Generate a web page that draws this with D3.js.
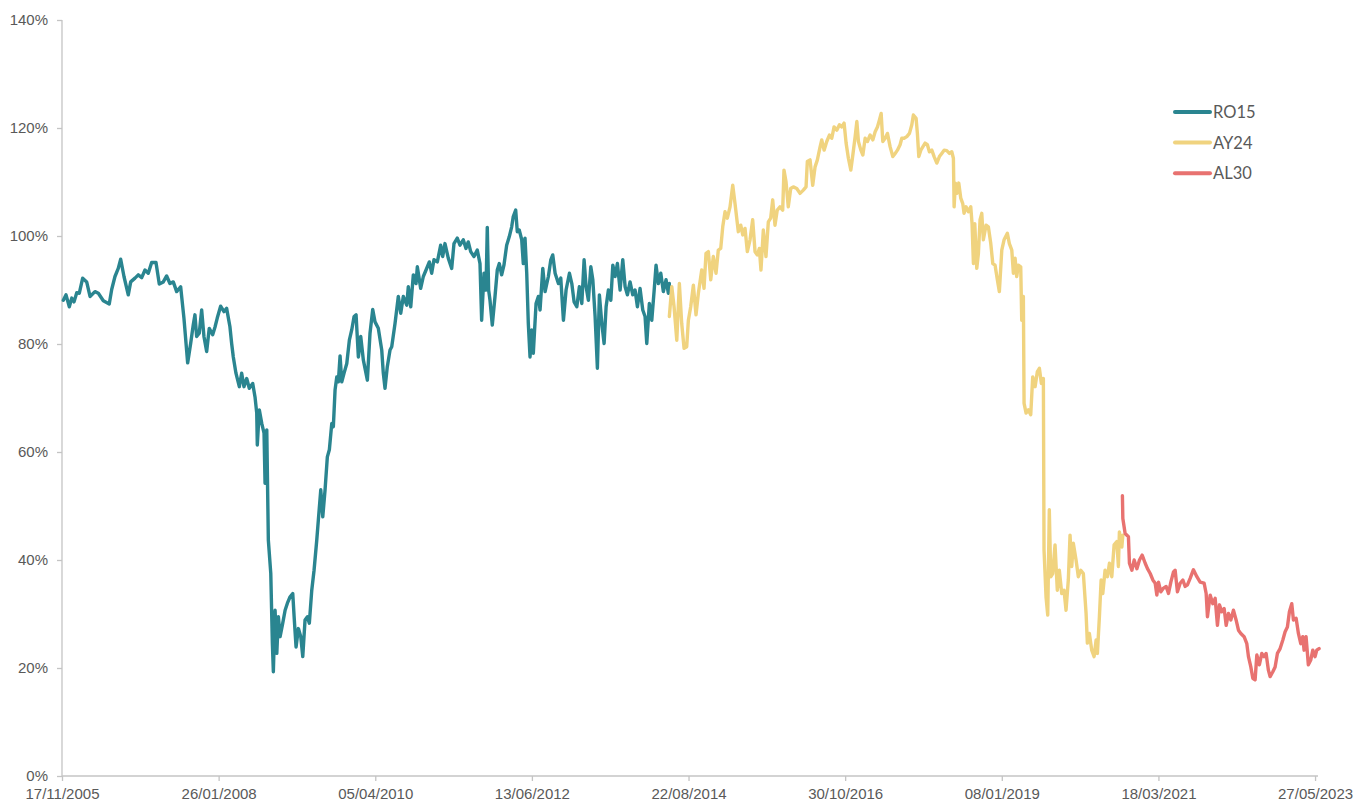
<!DOCTYPE html>
<html>
<head>
<meta charset="utf-8">
<script src="https://cdn.jsdelivr.net/npm/d3@7"></script>
<style>
  html, body { margin: 0; padding: 0; background: #fff; }
  svg { display: block; font-family: Lato, "Open Sans", sans-serif; }
  .axis path, .axis line { stroke: #c4c4c4; stroke-width: 1.3; }
  .axis text { fill: #595959; font-size: 15px; }
  .legend text { fill: #595959; font-size: 16.5px; }
</style>
</head>
<body>
<svg id="chart" width="1363" height="802"></svg>
<script>
// ---------- data (fecha en año decimal, valor en %) ----------
const ro15 = [
  [2005.895, 88.1], [2005.933, 89.1], [2005.979, 86.9], [2006.013, 88.5], [2006.045, 87.8],
  [2006.083, 89.5], [2006.119, 89.4], [2006.166, 92.2], [2006.222, 91.5], [2006.269, 88.8],
  [2006.338, 89.7], [2006.385, 89.4], [2006.455, 88.0], [2006.538, 87.4], [2006.572, 90.1],
  [2006.618, 92.5], [2006.664, 94.0], [2006.698, 95.7], [2006.744, 92.5], [2006.804, 89.1],
  [2006.838, 91.5], [2006.898, 92.2], [2006.944, 92.8], [2006.992, 92.3], [2007.038, 93.7],
  [2007.084, 93.1], [2007.131, 95.1], [2007.192, 95.1], [2007.238, 91.1], [2007.294, 91.5],
  [2007.341, 92.6], [2007.387, 91.2], [2007.434, 91.5], [2007.481, 89.7], [2007.537, 90.6],
  [2007.583, 84.8], [2007.635, 76.5], [2007.677, 80.1], [2007.713, 83.5], [2007.737, 85.4],
  [2007.761, 81.4], [2007.797, 82.0], [2007.831, 86.3], [2007.863, 81.4], [2007.901, 78.6],
  [2007.937, 82.9], [2007.985, 81.7], [2008.017, 83.1], [2008.049, 84.8], [2008.096, 87.0],
  [2008.143, 86.0], [2008.180, 86.6], [2008.226, 83.2], [2008.250, 80.1], [2008.273, 77.6],
  [2008.310, 74.6], [2008.357, 72.1], [2008.390, 74.6], [2008.422, 72.1], [2008.460, 73.6],
  [2008.496, 71.8], [2008.544, 72.7], [2008.576, 70.2], [2008.600, 67.2], [2008.608, 61.3],
  [2008.636, 67.8], [2008.670, 65.3], [2008.702, 63.5], [2008.716, 54.2], [2008.740, 64.1],
  [2008.762, 43.7], [2008.796, 37.5], [2008.818, 24.6], [2008.832, 19.3], [2008.856, 30.7],
  [2008.880, 22.7], [2008.902, 29.5], [2008.926, 25.8], [2008.963, 28.3], [2008.996, 30.7],
  [2009.028, 32.0], [2009.066, 33.2], [2009.103, 33.8], [2009.122, 29.5], [2009.149, 23.9],
  [2009.182, 27.3], [2009.215, 25.8], [2009.243, 22.1], [2009.275, 28.9], [2009.308, 29.5],
  [2009.335, 28.3], [2009.369, 34.4], [2009.401, 38.1], [2009.439, 43.7], [2009.461, 47.4],
  [2009.495, 53.0], [2009.523, 48.0], [2009.555, 53.0], [2009.587, 59.1], [2009.615, 60.4],
  [2009.649, 65.3], [2009.671, 64.7], [2009.695, 71.5], [2009.719, 73.9], [2009.741, 73.0],
  [2009.765, 77.8], [2009.789, 73.0], [2009.821, 74.6], [2009.859, 76.4], [2009.895, 80.7],
  [2009.928, 82.6], [2009.961, 85.1], [2009.989, 85.4], [2010.021, 77.6], [2010.054, 81.4],
  [2010.091, 77.0], [2010.147, 73.3], [2010.184, 82.0], [2010.222, 86.4], [2010.254, 84.1],
  [2010.300, 82.9], [2010.348, 78.9], [2010.370, 74.6], [2010.394, 71.8], [2010.426, 75.8],
  [2010.464, 78.9], [2010.488, 79.5], [2010.534, 83.8], [2010.580, 88.8], [2010.614, 85.7],
  [2010.650, 88.8], [2010.698, 87.2], [2010.720, 90.6], [2010.754, 86.9], [2010.790, 92.8],
  [2010.828, 91.2], [2010.846, 94.3], [2010.893, 90.3], [2010.930, 92.5], [2010.968, 93.7],
  [2011.014, 95.2], [2011.047, 93.1], [2011.079, 95.6], [2011.126, 95.2], [2011.173, 98.3],
  [2011.201, 96.2], [2011.233, 98.6], [2011.279, 95.9], [2011.327, 94.0], [2011.359, 98.6],
  [2011.405, 99.6], [2011.443, 98.3], [2011.489, 99.3], [2011.527, 97.7], [2011.559, 98.9],
  [2011.593, 97.1], [2011.639, 96.2], [2011.685, 97.4], [2011.723, 94.9], [2011.746, 84.4],
  [2011.779, 93.1], [2011.807, 90.0], [2011.825, 101.6], [2011.844, 90.0], [2011.863, 88.1],
  [2011.895, 83.5], [2011.933, 88.8], [2011.965, 93.7], [2011.993, 94.9], [2012.026, 92.8],
  [2012.058, 94.6], [2012.096, 98.3], [2012.133, 99.9], [2012.166, 101.7], [2012.188, 103.6],
  [2012.222, 104.8], [2012.244, 100.8], [2012.272, 101.1], [2012.306, 99.3], [2012.328, 94.9],
  [2012.352, 99.6], [2012.376, 93.1], [2012.398, 83.8], [2012.422, 77.6], [2012.446, 82.6],
  [2012.468, 78.3], [2012.506, 87.5], [2012.538, 88.8], [2012.562, 86.3], [2012.600, 94.0],
  [2012.632, 89.7], [2012.678, 92.5], [2012.712, 95.6], [2012.739, 96.5], [2012.772, 93.1],
  [2012.818, 91.2], [2012.851, 92.2], [2012.888, 84.4], [2012.925, 90.0], [2012.972, 93.1],
  [2013.005, 91.2], [2013.037, 87.8], [2013.075, 86.9], [2013.111, 90.6], [2013.145, 87.5],
  [2013.177, 95.6], [2013.205, 90.6], [2013.237, 88.1], [2013.271, 94.3], [2013.299, 91.9],
  [2013.331, 85.1], [2013.363, 75.5], [2013.391, 89.1], [2013.425, 83.8], [2013.457, 80.1],
  [2013.485, 86.9], [2013.517, 90.0], [2013.551, 88.1], [2013.579, 94.6], [2013.611, 92.5],
  [2013.643, 94.9], [2013.681, 90.0], [2013.718, 95.6], [2013.751, 90.6], [2013.783, 89.1],
  [2013.820, 91.5], [2013.858, 89.1], [2013.890, 90.0], [2013.923, 86.9], [2013.960, 90.3],
  [2013.998, 86.3], [2014.030, 85.1], [2014.054, 80.1], [2014.090, 87.5], [2014.124, 84.4],
  [2014.156, 89.7], [2014.184, 94.6], [2014.216, 91.2], [2014.250, 93.1], [2014.286, 89.7],
  [2014.324, 91.9], [2014.356, 89.4], [2014.370, 91.2]
];

const ay24 = [
  [2014.370, 85.1], [2014.404, 90.6], [2014.436, 86.9], [2014.474, 80.7], [2014.510, 91.2],
  [2014.543, 83.8], [2014.576, 79.2], [2014.613, 79.5], [2014.636, 84.4], [2014.669, 86.9],
  [2014.706, 90.9], [2014.743, 85.4], [2014.776, 89.4], [2014.823, 93.7], [2014.855, 90.3],
  [2014.883, 96.8], [2014.916, 97.1], [2014.949, 91.9], [2014.985, 96.2], [2015.023, 93.1],
  [2015.055, 97.4], [2015.089, 97.7], [2015.117, 101.7], [2015.149, 104.5], [2015.181, 103.3],
  [2015.219, 105.4], [2015.257, 109.4], [2015.289, 106.0], [2015.335, 100.8], [2015.369, 102.0],
  [2015.397, 100.2], [2015.429, 101.4], [2015.461, 97.1], [2015.499, 99.3], [2015.536, 103.0],
  [2015.569, 97.1], [2015.601, 96.5], [2015.629, 97.7], [2015.652, 93.7], [2015.685, 101.1],
  [2015.722, 96.2], [2015.755, 102.6], [2015.788, 103.3], [2015.816, 106.7], [2015.848, 102.0],
  [2015.880, 104.8], [2015.918, 105.4], [2015.956, 104.8], [2015.974, 112.2], [2016.002, 110.1],
  [2016.034, 105.4], [2016.068, 108.8], [2016.104, 109.1], [2016.152, 108.8], [2016.198, 107.9],
  [2016.244, 108.5], [2016.282, 109.1], [2016.300, 113.8], [2016.338, 114.1], [2016.375, 109.4],
  [2016.408, 112.8], [2016.440, 114.1], [2016.478, 116.5], [2016.501, 117.8], [2016.534, 115.9],
  [2016.571, 117.5], [2016.608, 118.7], [2016.641, 118.1], [2016.673, 120.2], [2016.711, 119.6],
  [2016.748, 120.6], [2016.781, 120.2], [2016.813, 120.9], [2016.841, 117.2], [2016.873, 114.4],
  [2016.907, 112.2], [2016.935, 115.0], [2016.967, 118.4], [2016.991, 121.2], [2017.013, 117.5],
  [2017.047, 115.9], [2017.075, 115.0], [2017.107, 118.1], [2017.139, 117.5], [2017.177, 118.7],
  [2017.215, 117.8], [2017.247, 119.3], [2017.279, 120.2], [2017.307, 121.5], [2017.331, 122.7],
  [2017.354, 117.5], [2017.387, 118.1], [2017.419, 119.0], [2017.457, 116.5], [2017.494, 114.7],
  [2017.527, 115.3], [2017.559, 115.9], [2017.596, 116.9], [2017.620, 118.1], [2017.652, 118.1],
  [2017.690, 118.4], [2017.727, 119.0], [2017.760, 120.6], [2017.782, 122.4], [2017.820, 121.8],
  [2017.838, 119.0], [2017.858, 114.7], [2017.886, 115.9], [2017.914, 116.5], [2017.946, 117.2],
  [2017.978, 116.9], [2018.006, 115.6], [2018.040, 115.9], [2018.072, 114.7], [2018.110, 113.5],
  [2018.146, 114.7], [2018.179, 115.3], [2018.212, 115.9], [2018.249, 115.8], [2018.286, 115.3],
  [2018.319, 115.6], [2018.342, 114.4], [2018.352, 105.4], [2018.370, 109.8], [2018.389, 107.9],
  [2018.417, 109.8], [2018.445, 107.0], [2018.473, 106.0], [2018.491, 104.2], [2018.519, 105.4],
  [2018.552, 104.5], [2018.585, 105.4], [2018.603, 102.3], [2018.622, 94.9], [2018.641, 102.3],
  [2018.669, 94.0], [2018.692, 96.8], [2018.715, 103.0], [2018.739, 104.2], [2018.761, 99.3],
  [2018.799, 102.0], [2018.831, 101.7], [2018.865, 98.6], [2018.893, 94.9], [2018.925, 94.6],
  [2018.957, 91.9], [2018.985, 89.7], [2019.019, 97.4], [2019.051, 99.3], [2019.097, 100.5],
  [2019.125, 98.6], [2019.159, 97.4], [2019.181, 93.1], [2019.205, 95.9], [2019.228, 92.5],
  [2019.251, 94.6], [2019.284, 94.3], [2019.298, 84.4], [2019.321, 88.8], [2019.331, 69.0],
  [2019.359, 67.2], [2019.391, 67.8], [2019.424, 66.9], [2019.452, 73.9], [2019.485, 72.1],
  [2019.517, 74.9], [2019.545, 75.5], [2019.573, 72.7], [2019.601, 73.6], [2019.610, 41.9],
  [2019.638, 33.2], [2019.662, 29.8], [2019.684, 49.3], [2019.704, 36.9], [2019.732, 37.5],
  [2019.764, 42.8], [2019.796, 34.4], [2019.824, 38.1], [2019.858, 33.8], [2019.890, 34.4],
  [2019.918, 30.7], [2019.950, 36.3], [2019.974, 44.6], [2019.998, 38.8], [2020.020, 43.1],
  [2020.058, 40.0], [2020.090, 36.9], [2020.124, 38.1], [2020.160, 37.5], [2020.198, 30.1],
  [2020.216, 24.6], [2020.244, 26.4], [2020.277, 23.3], [2020.310, 22.1], [2020.338, 25.2],
  [2020.356, 22.7], [2020.384, 29.5], [2020.408, 36.3], [2020.431, 33.8], [2020.463, 38.1],
  [2020.496, 36.9], [2020.524, 39.4], [2020.557, 36.9], [2020.589, 42.8], [2020.627, 43.4],
  [2020.649, 38.8], [2020.663, 45.2], [2020.697, 42.4], [2020.711, 44.6]
];

const al30 = [
  [2020.705, 51.9], [2020.711, 47.7], [2020.743, 44.9], [2020.789, 44.3], [2020.803, 39.4],
  [2020.837, 38.1], [2020.869, 40.0], [2020.907, 38.4], [2020.943, 40.0], [2020.981, 40.9],
  [2021.023, 39.4], [2021.055, 38.4], [2021.093, 37.5], [2021.130, 36.3], [2021.163, 35.7],
  [2021.186, 33.5], [2021.209, 35.9], [2021.242, 34.1], [2021.279, 34.8], [2021.316, 35.1],
  [2021.349, 33.8], [2021.382, 35.9], [2021.419, 37.8], [2021.442, 38.1], [2021.474, 34.1],
  [2021.512, 35.7], [2021.550, 36.3], [2021.582, 35.1], [2021.614, 35.4], [2021.652, 36.6],
  [2021.698, 38.2], [2021.746, 36.9], [2021.792, 35.9], [2021.848, 35.7], [2021.876, 33.8],
  [2021.894, 29.5], [2021.932, 33.5], [2021.969, 31.9], [2022.002, 32.9], [2022.034, 27.9],
  [2022.062, 31.7], [2022.095, 30.4], [2022.128, 31.0], [2022.156, 27.9], [2022.188, 30.1],
  [2022.221, 28.9], [2022.258, 30.7], [2022.295, 28.9], [2022.328, 27.0], [2022.361, 26.4],
  [2022.407, 25.8], [2022.445, 24.5], [2022.468, 22.1], [2022.501, 20.2], [2022.529, 18.1],
  [2022.561, 17.8], [2022.585, 22.4], [2022.621, 20.6], [2022.655, 22.7], [2022.687, 22.1],
  [2022.715, 22.7], [2022.747, 19.6], [2022.771, 18.4], [2022.809, 19.3], [2022.841, 20.2],
  [2022.873, 22.7], [2022.911, 23.6], [2022.949, 25.2], [2022.981, 26.7], [2023.013, 27.6],
  [2023.041, 30.4], [2023.074, 31.9], [2023.097, 28.9], [2023.135, 29.2], [2023.167, 26.4],
  [2023.200, 24.5], [2023.228, 25.8], [2023.246, 23.3], [2023.274, 25.8], [2023.306, 20.6],
  [2023.340, 21.5], [2023.368, 23.3], [2023.400, 22.1], [2023.424, 23.3], [2023.456, 23.6]
];

const seriesNames  = ['RO15', 'AY24', 'AL30'];
const seriesColors = ['#2a8590', '#f0d37f', '#e87270'];
const xTickLabels  = ['17/11/2005', '26/01/2008', '05/04/2010', '13/06/2012', '22/08/2014',
                      '30/10/2016', '08/01/2019', '18/03/2021', '27/05/2023'];
const yTicks       = [0, 20, 40, 60, 80, 100, 120, 140];

// ---------- helpers ----------
const parseDay = d3.timeParse('%d/%m/%Y');

// año decimal -> Date
function yearToDate(v) {
  const yr = Math.floor(v);
  const start = new Date(yr, 0, 1);
  const end = new Date(yr + 1, 0, 1);
  return new Date(start.getTime() + (v - yr) * (end - start));
}

// ---------- layout ----------
const svg = d3.select('#chart');
const plot = { left: 62, right: 1318, top: 20, bottom: 776 };

const x = d3.scaleTime()
  .domain([parseDay('17/11/2005'), parseDay('11/06/2023')])
  .range([plot.left, plot.right]);

const y = d3.scaleLinear()
  .domain([0, 140])
  .range([plot.bottom, plot.top]);

// ---------- axes ----------
svg.append('g')
  .attr('class', 'axis y-axis')
  .attr('transform', `translate(${plot.left},0)`)
  .call(d3.axisLeft(y).tickValues(yTicks).tickSize(5).tickPadding(9).tickFormat(d => d + '%'))
  .call(g => g.select('.domain').attr('d', `M0,${y(140)}V${y(0)}`));

svg.append('g')
  .attr('class', 'axis x-axis')
  .attr('transform', `translate(0,${plot.bottom})`)
  .call(d3.axisBottom(x).tickValues(xTickLabels.map(parseDay)).tickSize(5).tickPadding(7)
    .tickFormat(d3.timeFormat('%d/%m/%Y')))
  .call(g => g.select('.domain').attr('d', `M${plot.left},0H${plot.right}`));

// ---------- lines ----------
const line = d3.line()
  .x(d => x(yearToDate(d[0])))
  .y(d => y(d[1]));

[ro15, ay24, al30].forEach((data, i) => {
  svg.append('path')
    .datum(data)
    .attr('fill', 'none')
    .attr('stroke', seriesColors[i])
    .attr('stroke-width', 3.4)
    .attr('stroke-linejoin', 'round')
    .attr('stroke-linecap', 'round')
    .attr('d', line);
});

// ---------- legend ----------
const legend = svg.append('g')
  .attr('class', 'legend')
  .attr('transform', 'translate(1175,112)');

const items = legend.selectAll('g')
  .data(seriesNames)
  .join('g')
  .attr('transform', (d, i) => `translate(0,${i * 30.6})`);

items.append('line')
  .attr('x1', 0).attr('x2', 35)
  .attr('stroke', (d, i) => seriesColors[i])
  .attr('stroke-width', 4)
  .attr('stroke-linecap', 'round');

items.append('text')
  .attr('x', 38)
  .attr('dy', '0.36em')
  .text(d => d);
</script>
</body>
</html>
